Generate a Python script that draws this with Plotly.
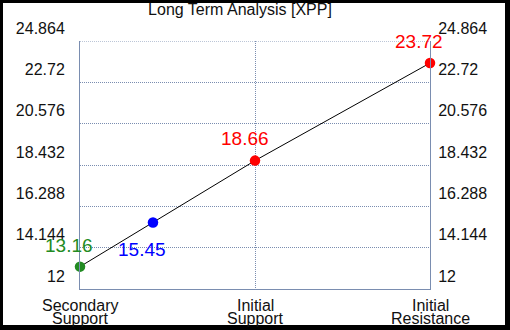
import plotly.graph_objects as go

# ---- data ----
categories = ["Secondary Support", "Initial Support", "Initial Resistance"]
category_x = [0, 1, 2]
point_x = [0, 0.417, 1, 2]
point_values = [13.16, 15.45, 18.66, 23.72]
point_labels = ["13.16", "15.45", "18.66", "23.72"]
point_colors = ["#228B22", "#0000FF", "#FF0000", "#FF0000"]
label_dx = [-11, -11, -10, -11]
label_dy = [21, -27, 22, 22]
y_ticks = [12, 14.144, 16.288, 18.432, 20.576, 22.72, 24.864]
y_ticktext = ["12", "14.144", "16.288", "18.432", "20.576", "22.72", "24.864"]
title_text = "Long Term Analysis [XPP]"

FONT = "Arial, Liberation Sans, sans-serif"
AXC = "#7a8db0"
DASH = "1px,1px"

fig = go.Figure()
fig.add_trace(go.Scatter(
    x=point_x, y=point_values, mode="lines+markers",
    line=dict(color="black", width=1),
    marker=dict(color=point_colors, size=10.5),
    cliponaxis=False,
    showlegend=False, hoverinfo="skip",
))
# dummy trace for right axis
fig.add_trace(go.Scatter(
    x=[point_x[0]], y=[y_ticks[0]], yaxis="y2", mode="markers",
    marker=dict(opacity=0), showlegend=False, hoverinfo="skip",
))

annotations = []
for x, v, t, c, dx, dy in zip(point_x, point_values, point_labels, point_colors, label_dx, label_dy):
    annotations.append(dict(
        x=x, y=v, xref="x", yref="y", text=t, showarrow=False,
        font=dict(family=FONT, size=19, color=c),
        xshift=dx, yshift=dy, xanchor="center", yanchor="middle",
    ))
for x, cat in zip(category_x, categories):
    parts = cat.split(" ")
    for i, p in enumerate(parts):
        annotations.append(dict(
            x=x, y=0, xref="x", yref="paper", text=p, showarrow=False,
            font=dict(family=FONT, size=16, color="#111"),
            xanchor="center", yanchor="middle", yshift=-16 - 13 * i,
        ))

fig.update_layout(
    width=510, height=330,
    margin=dict(l=80, r=80, t=41, b=41, autoexpand=False),
    paper_bgcolor="black", plot_bgcolor="white",
    title=dict(text=title_text, x=240 / 510, xanchor="center",
               y=1 - 9.5 / 330, yanchor="middle", yref="container",
               font=dict(family=FONT, size=16, color="#111")),
    xaxis=dict(range=[0, 2], tickvals=category_x, showticklabels=False,
               showgrid=True, gridcolor=AXC, griddash=DASH, gridwidth=1,
               showline=True, linecolor=AXC, linewidth=1, zeroline=False,
               fixedrange=True),
    yaxis=dict(range=[y_ticks[0], y_ticks[-1]], tickvals=y_ticks, ticktext=y_ticktext,
               showgrid=True, gridcolor=AXC, griddash=DASH, gridwidth=1,
               showline=True, linecolor=AXC, linewidth=1, zeroline=False,
               ticks="", ticklabelshift=-13, ticklabelstandoff=11,
               tickfont=dict(family=FONT, size=16, color="#111")),
    yaxis2=dict(range=[y_ticks[0], y_ticks[-1]], tickvals=y_ticks, ticktext=y_ticktext,
                overlaying="y", side="right", showgrid=False,
                showline=True, linecolor=AXC, linewidth=1, zeroline=False,
                ticks="", ticklabelshift=-13, ticklabelstandoff=4,
                tickfont=dict(family=FONT, size=16, color="#111")),
    annotations=annotations,
    shapes=[
        dict(type="rect", xref="paper", yref="paper",
             x0=(3 - 80) / 350, x1=(505 - 80) / 350,
             y0=(289 - 325) / 248, y1=(289 - 3) / 248,
             fillcolor="white", line=dict(width=0), layer="below"),
        dict(type="line", xref="paper", yref="y", x0=0, x1=1,
             y0=y_ticks[-1], y1=y_ticks[-1],
             line=dict(color=AXC, width=1, dash=DASH), layer="below"),
    ],
)

fig.write_html("out.html", config={"displayModeBar": False},
               post_script="document.body.style.margin='0';")
